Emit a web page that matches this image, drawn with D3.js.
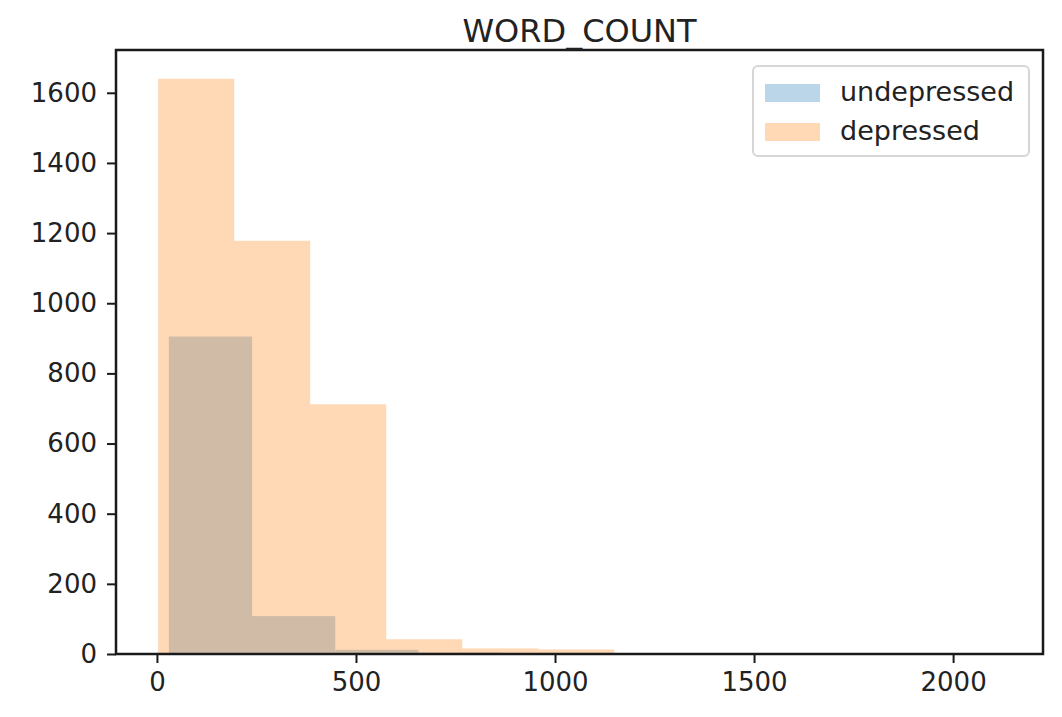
<!DOCTYPE html>
<html>
<head>
<meta charset="utf-8">
<script src="https://cdn.jsdelivr.net/npm/d3@7"></script>
<style>
  html, body { margin: 0; padding: 0; background: #fff; }
  svg { display: block; }
  text { font-family: "DejaVu Sans", sans-serif; fill: #222; }
</style>
</head>
<body>
<svg id="chart" width="1062" height="717"></svg>
<script>
// ---- data ----
const title = "WORD_COUNT";
const seriesNames = ["undepressed", "depressed"];
const undepressedRange = [30, 2120];          // min / max of the 10 bins
const undepressedCounts = [905, 108, 12, 4, 2, 1, 1, 0, 0, 1];
const depressedRange = [3, 1913];
const depressedCounts = [1640, 1178, 712, 42, 16, 13, 2, 0, 0, 1];
const xTicks = [0, 500, 1000, 1500, 2000];
const yTicks = [0, 200, 400, 600, 800, 1000, 1200, 1400, 1600];
const colors = ["#1f77b4", "#ff7f0e"];

// ---- layout ----
const svg = d3.select("#chart");
const L = 116, R = 1043, T = 50, B = 654;

function bins(range, counts) {
  const w = (range[1] - range[0]) / counts.length;
  return counts.map((c, i) => ({ x0: range[0] + i * w, x1: range[0] + (i + 1) * w, c }));
}
const series = [bins(undepressedRange, undepressedCounts), bins(depressedRange, depressedCounts)];

const dmin = Math.min(undepressedRange[0], depressedRange[0]);
const dmax = Math.max(undepressedRange[1], depressedRange[1]);
const pad = (dmax - dmin) * 0.05;
const x = d3.scaleLinear().domain([dmin - pad, dmax + pad]).range([L, R]);
const ymax = d3.max([...undepressedCounts, ...depressedCounts]) * 1.05;
const y = d3.scaleLinear().domain([0, ymax]).range([B, T]);

// bars
series.forEach((s, si) => {
  svg.append("g").selectAll("rect").data(s).join("rect")
    .attr("x", d => x(d.x0))
    .attr("width", d => x(d.x1) - x(d.x0))
    .attr("y", d => y(d.c))
    .attr("height", d => B - y(d.c))
    .attr("fill", colors[si])
    .attr("fill-opacity", 0.3);
});

// axes
const xAxis = svg.append("g").attr("transform", `translate(0,${B})`)
  .call(d3.axisBottom(x).tickValues(xTicks).tickSize(9).tickPadding(10).tickFormat(d3.format("d")));
const yAxis = svg.append("g").attr("transform", `translate(${L},0)`)
  .call(d3.axisLeft(y).tickValues(yTicks).tickSize(9).tickPadding(10).tickFormat(d3.format("d")));
[xAxis, yAxis].forEach(a => {
  a.select(".domain").remove();
  a.selectAll(".tick line").attr("stroke", "#1a1a1a").attr("stroke-width", 2);
  a.selectAll(".tick text").attr("font-size", 26).attr("font-family", "DejaVu Sans").attr("fill", "#222");
});

// frame
svg.append("rect").attr("x", L).attr("y", T).attr("width", R - L).attr("height", B - T)
  .attr("fill", "none").attr("stroke", "#1a1a1a").attr("stroke-width", 2.5);

// title
svg.append("text").attr("x", (L + R) / 2).attr("y", 42).attr("text-anchor", "middle")
  .attr("font-size", 32).text(title);

// legend
const lg = svg.append("g");
lg.append("rect").attr("x", 753).attr("y", 66).attr("width", 276).attr("height", 90)
  .attr("rx", 5).attr("fill", "#fff").attr("fill-opacity", 0.8)
  .attr("stroke", "#d6d6d6").attr("stroke-width", 2);
seriesNames.forEach((n, i) => {
  const yy = 91 + i * 39;
  lg.append("rect").attr("x", 765).attr("y", yy - 7).attr("width", 55).attr("height", 18)
    .attr("fill", colors[i]).attr("fill-opacity", 0.3);
  lg.append("text").attr("x", 840).attr("y", yy + 10).attr("font-size", 27).text(n);
});
</script>
</body>
</html>
